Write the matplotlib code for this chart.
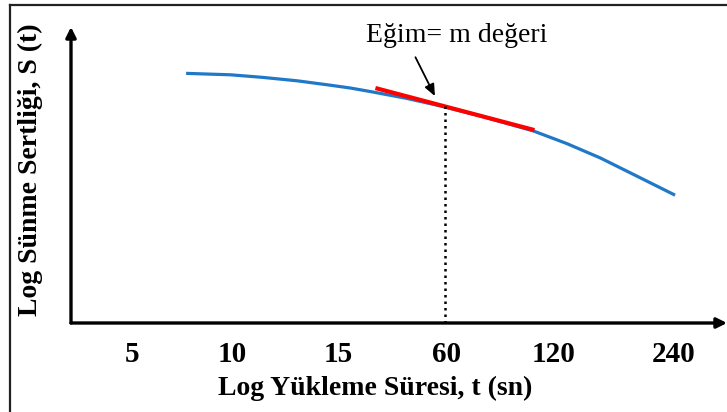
import numpy as np
import matplotlib
matplotlib.use("Agg")
import matplotlib.pyplot as plt
from matplotlib.lines import Line2D

plt.rcParams['font.family'] = ['Liberation Serif', 'DejaVu Serif']

# tick labels and where they sit on the (schematic) log-time axis
tick_labels = ["5", "10", "15", "60", "120", "240"]
tick_pos = [0.0, 0.93, 1.91, 2.91, 3.90, 5.01]

# creep stiffness curve
curve_x = [0.50, 0.91, 1.21, 1.53, 1.83, 2.02, 2.23, 2.54, 2.85, 3.22,
           3.40, 3.71, 4.02, 4.33, 4.63, 5.02]
curve_y = [8.67, 8.62, 8.53, 8.41, 8.26, 8.16, 8.02, 7.80, 7.54, 7.19,
           7.00, 6.67, 6.23, 5.73, 5.17, 4.44]

# tangent (slope = m) and the point at 60 s
tan_x = [2.25, 3.72]
tan_y = [8.16, 6.70]
t60_x = 2.89
t60_y = 7.53

W, H = 727, 412
fig = plt.figure(figsize=(W / 100, H / 100), dpi=100)
ax = fig.add_axes([71 / W, (H - 323) / H, (W - 71) / W, (323 - 27) / H])
ax.set_xlim(-0.564, 5.50)
ax.set_ylim(0, 10.28)
for s in ax.spines.values():
    s.set_visible(False)

ax.plot(curve_x, curve_y, color='#1f78c8', lw=2.3, solid_capstyle='butt',
        solid_joinstyle='round')
ax.plot(tan_x, tan_y, color='#ff0000', lw=3.0, solid_capstyle='butt')
ax.plot([t60_x, t60_x], [0, t60_y], color='black', lw=1.8, linestyle=(0, (1, 1.6)))

# axis arrows
ax.annotate('', xy=(0, 1), xytext=(0, 0), xycoords='axes fraction',
            arrowprops=dict(arrowstyle='-|>,head_length=0.6,head_width=0.3',
                            lw=2.4, color='black', shrinkA=0, shrinkB=0),
            annotation_clip=False)
ax.annotate('', xy=(1, 0), xytext=(0, 0), xycoords='axes fraction',
            arrowprops=dict(arrowstyle='-|>,head_length=0.6,head_width=0.3',
                            lw=2.4, color='black', shrinkA=0, shrinkB=0),
            annotation_clip=False)

# slope annotation
ax.annotate('', xy=(2.80, 7.88), xytext=(2.62, 9.23),
            arrowprops=dict(arrowstyle='-|>,head_length=0.7,head_width=0.3',
                            lw=1.3, color='black', shrinkA=0, shrinkB=0))
ax.text(3.0, 10.0, 'Eğim= m değeri', fontsize=20, ha='center', va='center')

ax.set_xticks(tick_pos)
ax.set_xticklabels(tick_labels, fontsize=21, fontweight='bold')
ax.tick_params(axis='x', length=0, pad=13)
ax.set_yticks([])

ax.set_xlabel('Log Yükleme Süresi, t (sn)', fontsize=20, fontweight='bold', va='center')
ax.xaxis.set_label_coords((375 - 71) / 656, (323 - 388) / 296)
ax.set_ylabel('Log Sünme Sertliği, S (t)', fontsize=20, fontweight='bold', va='center')
ax.yaxis.set_label_coords((30 - 71) / 656, (323 - 170) / 296)

# frame around the figure (left and top only are visible)
fig.add_artist(Line2D([10 / W, 10 / W], [0, 1 - 5 / H], transform=fig.transFigure,
                      color='#222222', lw=1.6))
fig.add_artist(Line2D([10 / W, 1], [1 - 5 / H, 1 - 5 / H], transform=fig.transFigure,
                      color='#222222', lw=1.6))

fig.savefig('out.png', dpi=100)
